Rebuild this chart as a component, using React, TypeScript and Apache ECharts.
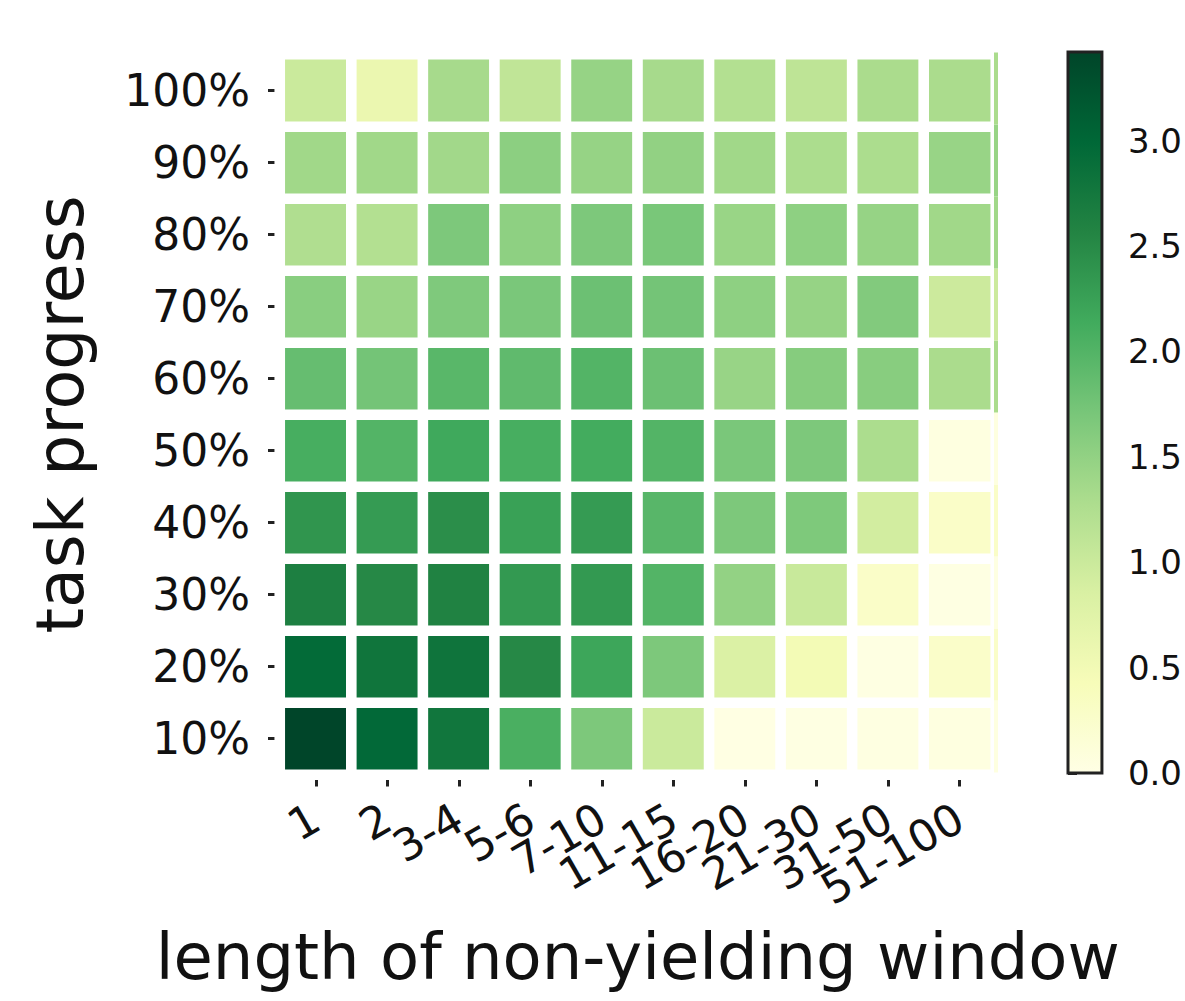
import React, { useEffect, useRef } from "react";
import * as echarts from "echarts";

// Window-length buckets (x) and task-progress buckets (y, bottom to top)
const windowLengths = ["1", "2", "3-4", "5-6", "7-10", "11-15", "16-20", "21-30", "31-50", "51-100"];
const taskProgress = ["10%", "20%", "30%", "40%", "50%", "60%", "70%", "80%", "90%", "100%"];

// One row of values per progress bucket, one value per window bucket
const progress10 = [3.42, 2.97, 2.78, 2.07, 1.67, 1.0, 0.02, 0.03, 0.04, 0.05];
const progress20 = [2.95, 2.8, 2.81, 2.52, 2.19, 1.67, 0.82, 0.48, 0.03, 0.27];
const progress30 = [2.64, 2.52, 2.6, 2.34, 2.33, 2.0, 1.49, 1.02, 0.28, 0.03];
const progress40 = [2.38, 2.31, 2.45, 2.25, 2.31, 1.96, 1.67, 1.66, 0.92, 0.28];
const progress50 = [2.09, 2.0, 2.16, 2.09, 2.12, 2.0, 1.69, 1.67, 1.29, 0.05];
const progress60 = [1.85, 1.74, 1.95, 1.9, 2.0, 1.8, 1.45, 1.6, 1.58, 1.3];
const progress70 = [1.57, 1.44, 1.65, 1.69, 1.8, 1.74, 1.53, 1.47, 1.63, 0.98];
const progress80 = [1.25, 1.22, 1.67, 1.53, 1.67, 1.7, 1.44, 1.53, 1.47, 1.38];
const progress90 = [1.38, 1.38, 1.37, 1.55, 1.47, 1.5, 1.38, 1.29, 1.29, 1.45];
const progress100 = [1.0, 0.6, 1.33, 1.1, 1.47, 1.33, 1.22, 1.12, 1.3, 1.3];

const rows = [
  progress10, progress20, progress30, progress40, progress50,
  progress60, progress70, progress80, progress90, progress100,
];

// Colour bar tick values
const colorbarTicks = [0, 0.5, 1.0, 1.5, 2.0, 2.5, 3.0];

// YlGn colour ramp
const ylGn = ["#ffffe5", "#f7fcb9", "#d9f0a3", "#addd8e", "#78c679", "#41ab5d", "#238443", "#006837", "#004529"];

const FONT = "DejaVu Sans";
const INK = "#111";

export default function App() {
  const ref = useRef<HTMLDivElement>(null);

  useEffect(() => {
    if (!ref.current) return;
    const chart = echarts.init(ref.current, null, { renderer: "svg" });

    const cells: number[][] = [];
    rows.forEach((row, r) => row.forEach((v, c) => cells.push([c, r, v])));
    const lastCol = windowLengths.length - 1;
    const edgeCells = rows.map((row, r) => [lastCol, r, row[lastCol]]);
    const vmax = Math.max(...rows.map((r) => Math.max(...r)));

    const gradientStops = ylGn.map((color, i) => ({ offset: i / (ylGn.length - 1), color }));

    chart.setOption({
      animation: false,
      backgroundColor: "#fff",
      textStyle: { fontFamily: FONT },
      grid: [
        { left: 280, top: 54.5, width: 715.5, height: 720 },
        { left: 1068, top: 52, width: 36, height: 721 },
      ],
      xAxis: [
        {
          type: "category",
          gridIndex: 0,
          data: windowLengths,
          name: "length of non-yielding window",
          nameLocation: "middle",
          nameGap: 150,
          nameTextStyle: { fontFamily: FONT, fontSize: 64, color: INK },
          axisLine: { show: false },
          axisTick: { show: true, alignWithLabel: true, length: 12, lineStyle: { color: "#222", width: 3 } },
          axisLabel: { interval: 0, rotate: 30, margin: 40, fontFamily: FONT, fontSize: 44, color: INK },
          splitLine: { show: false },
        },
        { type: "value", gridIndex: 1, show: false, min: 0, max: 1 },
      ],
      yAxis: [
        {
          type: "category",
          gridIndex: 0,
          data: taskProgress,
          name: "task progress",
          nameLocation: "middle",
          nameGap: 187,
          nameRotate: 90,
          nameTextStyle: { fontFamily: FONT, fontSize: 65, color: INK },
          axisLine: { show: false },
          axisTick: { show: true, alignWithLabel: true, length: 12, lineStyle: { color: "#222", width: 3 } },
          axisLabel: { interval: 0, margin: 30, fontFamily: FONT, fontSize: 44, color: INK },
          splitLine: { show: false },
        },
        {
          type: "value",
          gridIndex: 1,
          position: "right",
          min: 0,
          max: vmax,
          interval: 0.5,
          axisLine: { show: false },
          axisTick: { show: true, length: 9, customValues: colorbarTicks, lineStyle: { color: "#222", width: 3 } },
          axisLabel: {
            customValues: colorbarTicks,
            margin: 26,
            fontFamily: FONT,
            fontSize: 34,
            color: INK,
            formatter: (v: number) => v.toFixed(1),
          },
          splitLine: { show: false },
        },
      ],
      visualMap: {
        type: "continuous",
        show: false,
        min: 0,
        max: vmax,
        dimension: 2,
        seriesIndex: [0, 1],
        inRange: { color: ylGn },
      },
      series: [
        {
          type: "heatmap",
          xAxisIndex: 0,
          yAxisIndex: 0,
          data: cells,
          z: 2,
          itemStyle: { borderColor: "#fff", borderWidth: 10.6 },
          emphasis: { disabled: true },
        },
        {
          // thin sliver of the last column that shows past the plot edge
          type: "custom",
          xAxisIndex: 0,
          yAxisIndex: 0,
          z: 3,
          data: edgeCells,
          silent: true,
          renderItem: (params: any, api: any) => {
            const c = api.coord([api.value(0), api.value(1)]);
            const s = api.size([1, 1]);
            return {
              type: "rect",
              shape: { x: c[0] + s[0] / 2 - 1.5, y: c[1] - s[1] / 2 - 2, width: 4, height: s[1] },
              style: { fill: api.visual("color") },
            };
          },
        },
        {
          // colour bar
          type: "custom",
          xAxisIndex: 1,
          yAxisIndex: 1,
          data: [[0, 0]],
          silent: true,
          renderItem: (params: any) => {
            const cs = params.coordSys;
            return {
              type: "rect",
              shape: { x: cs.x, y: cs.y, width: cs.width, height: cs.height },
              style: {
                fill: new echarts.graphic.LinearGradient(0, 1, 0, 0, gradientStops),
                stroke: "#222",
                lineWidth: 3,
              },
            };
          },
        },
      ],
    });

    return () => chart.dispose();
  }, []);

  return (
    <div
      ref={ref}
      style={{ position: "fixed", left: 0, top: 0, width: 1185, height: 1001, background: "#fff" }}
    />
  );
}
